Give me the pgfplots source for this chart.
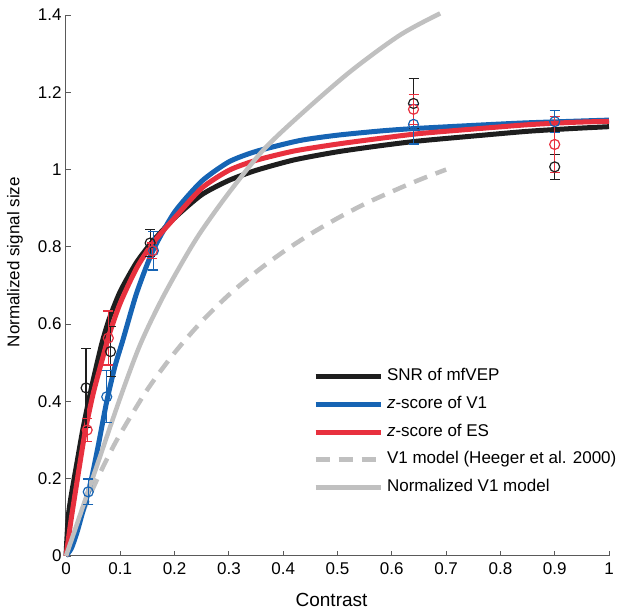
\documentclass[border=0pt]{standalone}
\usepackage{pgfplots}
\pgfplotsset{compat=1.18}
\usepackage{fontspec}
\setmainfont{Liberation Sans}

\definecolor{snrblack}{RGB}{30,30,30}
\definecolor{vblue}{RGB}{22,100,180}
\definecolor{esred}{RGB}{232,48,62}
\definecolor{modgray}{RGB}{192,192,192}
\definecolor{axgray}{RGB}{90,90,90}

\newcommand{\figfont}{\fontsize{17}{20}\selectfont}

\begin{document}
\begin{tikzpicture}[font=\figfont]
  \path[use as bounding box] (-66pt,-59pt) rectangle (558pt,556pt);
  \begin{axis}[
      at={(0,0)}, anchor=south west,
      width=543pt, height=541pt, scale only axis,
      xmin=0, xmax=1, ymin=0, ymax=1.4,
      clip=false,
      axis x line*=bottom, axis y line*=left,
      axis line style={axgray, line width=1pt},
      tick align=inside,
      major tick length=5pt,
      tick style={axgray, line width=0.9pt},
      xtick={0,0.1,...,1.01},
      ytick={0,0.2,...,1.41},
      /pgf/number format/assume math mode=true,
      tick label style={font=\figfont, black},
      label style={font=\figfont},
      xticklabel style={yshift=-3pt},
      yticklabel style={xshift=-1pt},
      xlabel={Contrast},
      ylabel={Normalized signal size},
      xlabel style={at={(axis description cs:0.489,-0.0813)}, anchor=center,
        font=\fontsize{19}{22}\selectfont},
      ylabel style={at={(axis description cs:-0.094,0.543)}, anchor=center},
      legend cell align=left,
      legend image code/.code={\draw[#1] (0pt,0pt) -- (65pt,0pt);},
      legend style={draw=none, fill=none, inner sep=0pt, outer sep=0pt,
        at={(axis cs:0.455,0.49)}, anchor=north west, font=\figfont,
        nodes={inner sep=2pt, text height=12pt, text depth=4pt},
        row sep=7.7pt, column sep=2pt},
    ]
    % V1 model (Heeger et al. 2000)
    \addplot[modgray, line width=4.5pt, dash pattern=on 14pt off 9pt, smooth, forget plot] coordinates {
      (0,0) (0.025,0.093) (0.05,0.176) (0.075,0.250) (0.1,0.316) (0.15,0.431)
      (0.2,0.526) (0.25,0.607) (0.3,0.676) (0.35,0.735) (0.4,0.787)
      (0.45,0.833) (0.5,0.874) (0.55,0.911) (0.6,0.943) (0.65,0.973) (0.7,1.0)};
    % SNR of mfVEP
    \addplot[snrblack, line width=5pt, smooth, tension=0.4] coordinates {
      (0,0) (0.004,0.1) (0.01,0.16) (0.02,0.24) (0.03,0.32) (0.04,0.39)
      (0.05,0.455) (0.066,0.55) (0.08,0.615) (0.1,0.685) (0.13,0.76)
      (0.16,0.815) (0.2,0.875) (0.25,0.935) (0.3,0.972) (0.35,0.998)
      (0.42,1.025) (0.5,1.046) (0.58,1.062) (0.65,1.074) (0.76,1.088)
      (0.85,1.099) (0.93,1.106) (1,1.111)};
    \addlegendentry{SNR of mfVEP}
    % z-score of V1
    \addplot[vblue, line width=5pt, smooth, tension=0.4] coordinates {
      (0,0) (0.01,0.02) (0.02,0.06) (0.03,0.11) (0.041,0.165) (0.05,0.22)
      (0.06,0.29) (0.075,0.40) (0.09,0.49) (0.105,0.56) (0.13,0.68)
      (0.16,0.79) (0.2,0.89) (0.25,0.97) (0.3,1.02) (0.35,1.047)
      (0.43,1.075) (0.5,1.089) (0.58,1.1) (0.64,1.106) (0.76,1.115)
      (0.85,1.121) (1,1.128)};
    \addlegendentry{\textit{z}-score of V1}
    % z-score of ES
    \addplot[esred, line width=5pt, smooth, tension=0.4] coordinates {
      (0,0) (0.005,0.05) (0.01,0.1) (0.02,0.19) (0.035,0.32) (0.05,0.42)
      (0.069,0.52) (0.08,0.575) (0.1,0.655) (0.13,0.745) (0.16,0.81)
      (0.2,0.875) (0.25,0.952) (0.3,0.998) (0.35,1.024) (0.42,1.048)
      (0.5,1.066) (0.58,1.081) (0.65,1.093) (0.76,1.106) (0.85,1.116)
      (0.93,1.122) (1,1.125)};
    \addlegendentry{\textit{z}-score of ES}
    % legend entry for the dashed model
    \addlegendimage{modgray, line width=4.5pt, dash pattern=on 14pt off 9pt}
    \addlegendentry{V1 model (Heeger et al. 2000)}
    % Normalized V1 model
    \addplot[modgray, line width=4.5pt, smooth] coordinates {
      (0,0) (0.05,0.205) (0.1,0.41) (0.136,0.545) (0.173,0.655) (0.21,0.75)
      (0.247,0.836) (0.3,0.94) (0.363,1.05) (0.431,1.141) (0.523,1.253)
      (0.615,1.348) (0.689,1.404)};
    \addlegendentry{Normalized V1 model}

    % data points with error bars
    \addplot[snrblack, only marks, mark=o, mark size=5pt, mark options={line width=1.2pt},
      forget plot, error bars/.cd, y dir=both, y explicit,
      error mark options={rotate=90, mark size=5pt, line width=1.2pt},
      error bar style={line width=1.2pt}] coordinates {
      (0.037,0.435) +- (0,0.102)
      (0.082,0.529) +- (0,0.065)
      (0.155,0.81) +- (0,0.035)
      (0.64,1.171) +- (0,0.065)
      (0.9,1.007) +- (0,0.033)};
    \addplot[vblue, only marks, mark=o, mark size=5pt, mark options={line width=1.2pt},
      forget plot, error bars/.cd, y dir=both, y explicit,
      error mark options={rotate=90, mark size=5pt, line width=1.2pt},
      error bar style={line width=1.2pt}] coordinates {
      (0.041,0.166) +- (0,0.033)
      (0.075,0.412) +- (0,0.067)
      (0.161,0.79) +- (0,0.05)
      (0.64,1.117) +- (0,0.051)
      (0.9,1.124) +- (0,0.028)};
    \addplot[esred, only marks, mark=o, mark size=5pt, mark options={line width=1.2pt},
      forget plot, error bars/.cd, y dir=both, y explicit,
      error mark options={rotate=90, mark size=5pt, line width=1.2pt},
      error bar style={line width=1.2pt}] coordinates {
      (0.039,0.326) +- (0,0.03)
      (0.078,0.564) +- (0,0.07)
      (0.159,0.79) +- (0,0.02)
      (0.64,1.156) +- (0,0.039)
      (0.9,1.065) +- (0,0.073)};
  \end{axis}
\end{tikzpicture}
\end{document}
